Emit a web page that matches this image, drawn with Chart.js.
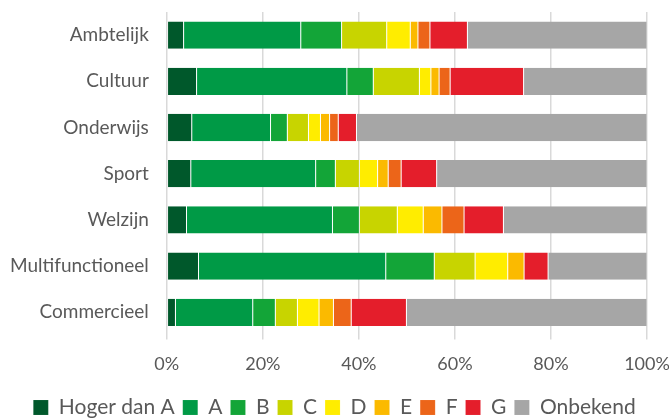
<!DOCTYPE html>
<html>
<head>
<meta charset="utf-8">
<script src="https://cdn.jsdelivr.net/npm/chart.js@4"></script>
<style>
  html, body { margin: 0; padding: 0; background: #fff; }
  #wrap { width: 669px; height: 420px; }
</style>
</head>
<body>
<div id="wrap"><canvas id="chart_labels"></canvas></div>
<script>
// categories and values (percent of buildings per energy label)
const categories = ["Ambtelijk", "Cultuur", "Onderwijs", "Sport", "Welzijn", "Multifunctioneel", "Commercieel"];
const hogerDanA = [3.5, 6.2, 5.2, 5.0, 4.1, 6.6, 1.8];
const labelA = [24.4, 31.3, 16.4, 26.0, 30.4, 39.0, 16.1];
const labelB = [8.5, 5.5, 3.5, 4.1, 5.6, 10.1, 4.7];
const labelC = [9.4, 9.6, 4.4, 5.0, 7.9, 8.5, 4.6];
const labelD = [4.9, 2.4, 2.5, 3.8, 5.4, 6.8, 4.5];
const labelE = [1.6, 1.7, 1.9, 2.2, 3.9, 3.4, 3.0];
const labelF = [2.5, 2.3, 1.8, 2.7, 4.6, 0, 3.7];
const labelG = [7.8, 15.3, 3.8, 7.4, 8.2, 5.0, 11.5];
const onbekend = [37.4, 25.7, 60.5, 43.8, 29.9, 20.6, 50.1];
const xTicks = [0, 20, 40, 60, 80, 100];

const series = [
    ["Hoger dan A", hogerDanA, "#00582b"],
    ["A", labelA, "#009a46"],
    ["B", labelB, "#13a538"],
    ["C", labelC, "#c8d400"],
    ["D", labelD, "#ffed00"],
    ["E", labelE, "#fbba00"],
    ["F", labelF, "#ec6519"],
    ["G", labelG, "#e41e2b"],
    ["Onbekend", onbekend, "#a6a6a6"],
];

const ctx = document.getElementById("chart_labels").getContext("2d");
const chart_labels = new Chart(ctx, {
    type: "bar",
    data: {
        labels: categories,
        datasets: series.map(([label, data, color]) => ({
            label: label,
            data: data,
            backgroundColor: color,
            borderColor: "rgba(255,255,255,0.35)",
            borderWidth: { left: 0.5, right: 0.5, top: 0, bottom: 0 },
            borderSkipped: false,
            categoryPercentage: 1,
            barPercentage: 0.59,
        })),
    },
    options: {
        indexAxis: "y",
        responsive: true,
        maintainAspectRatio: false,
        animation: false,
        layout: { padding: { top: 12, right: 0, left: 0, bottom: -8 } },
        plugins: {
            tooltip: { enabled: false },
            legend: {
                position: "bottom",
                labels: {
                    font: { family: "Lato", size: 21 },
                    color: "#595959",
                    boxWidth: 15,
                    boxHeight: 15,
                    padding: 8,
                },
            },
        },
        scales: {
            x: {
                stacked: true,
                min: 0,
                max: 100,
                afterBuildTicks: (axis) => {
                    axis.ticks = xTicks.map((v) => ({ value: v }));
                },
                afterFit: (axis) => {
                    axis.paddingRight = 22;
                },
                grid: {
                    color: "#d9d9d9",
                    lineWidth: 1.5,
                    tickLength: 4,
                },
                border: { display: false },
                ticks: {
                    font: { family: "Lato", size: 18 },
                    color: "#595959",
                    padding: 14,
                    callback: (v) => v + "%",
                },
            },
            y: {
                stacked: true,
                afterFit: (axis) => {
                    axis.paddingTop = 0;
                    axis.paddingBottom = 0;
                },
                grid: { display: false },
                border: { display: false },
                ticks: {
                    font: { family: "Lato", size: 19 },
                    color: "#595959",
                    padding: 10,
                },
            },
        },
    },
});
</script>
</body>
</html>
